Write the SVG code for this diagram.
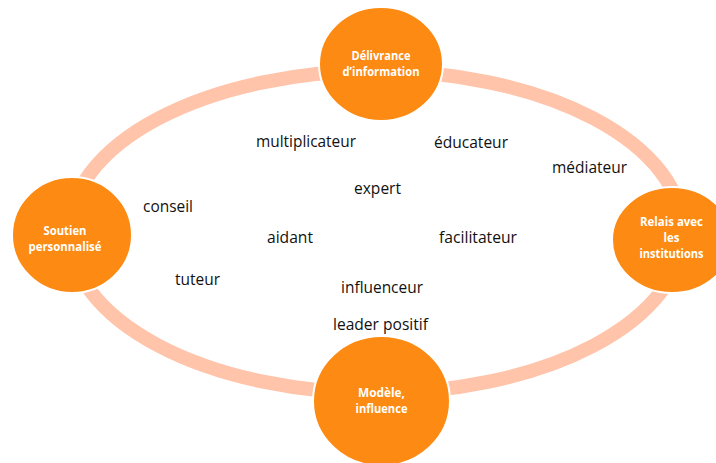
<svg xmlns="http://www.w3.org/2000/svg" width="716" height="463" viewBox="0 0 716 463">
<style>
.ring{fill:none;stroke:#FFC4AA;stroke-width:14}
.node{fill:#FD8A12;stroke:#FFFFFF;stroke-width:2}
.nt{font-family:"Open Sans","Liberation Sans",sans-serif;font-weight:700;font-size:11.5px;fill:#FFFFFF;text-anchor:middle}
.lb{font-family:"Open Sans","Liberation Sans",sans-serif;font-size:16px;fill:#111111}
</style>
<rect width="716" height="463" fill="#FFFFFF"/>
<g id="connectors">
<ellipse class="ring" cx="376" cy="232" rx="307" ry="161"/>
</g>
<g id="node-delivrance">
<ellipse class="node" cx="381" cy="64" rx="62" ry="57"/>
<text class="nt" x="381" y="60" textLength="59" lengthAdjust="spacingAndGlyphs">Délivrance</text>
<text class="nt" x="381" y="76" textLength="77" lengthAdjust="spacingAndGlyphs">d’information</text>
</g>
<g id="node-soutien">
<ellipse class="node" cx="72" cy="235" rx="60" ry="58"/>
<text class="nt" x="65" y="235" textLength="43" lengthAdjust="spacingAndGlyphs">Soutien</text>
<text class="nt" x="65" y="251" textLength="73" lengthAdjust="spacingAndGlyphs">personnalisé</text>
</g>
<g id="node-relais">
<ellipse class="node" cx="672" cy="240" rx="60" ry="53"/>
<text class="nt" x="671.5" y="226" textLength="63" lengthAdjust="spacingAndGlyphs">Relais avec</text>
<text class="nt" x="671.5" y="242">les</text>
<text class="nt" x="671.5" y="258" textLength="64" lengthAdjust="spacingAndGlyphs">institutions</text>
</g>
<g id="node-modele">
<ellipse class="node" cx="381.5" cy="401" rx="68.5" ry="65"/>
<text class="nt" x="381.5" y="397" textLength="47" lengthAdjust="spacingAndGlyphs">Modèle,</text>
<text class="nt" x="381.5" y="413" textLength="52" lengthAdjust="spacingAndGlyphs">influence</text>
</g>
<g id="labels">
<text class="lb" x="256" y="147" textLength="100" lengthAdjust="spacingAndGlyphs">multiplicateur</text>
<text class="lb" x="434" y="148" textLength="74" lengthAdjust="spacingAndGlyphs">éducateur</text>
<text class="lb" x="552" y="173" textLength="75" lengthAdjust="spacingAndGlyphs">médiateur</text>
<text class="lb" x="354" y="194" textLength="47" lengthAdjust="spacingAndGlyphs">expert</text>
<text class="lb" x="143" y="212" textLength="50" lengthAdjust="spacingAndGlyphs">conseil</text>
<text class="lb" x="267" y="243" textLength="46" lengthAdjust="spacingAndGlyphs">aidant</text>
<text class="lb" x="439" y="243" textLength="78" lengthAdjust="spacingAndGlyphs">facilitateur</text>
<text class="lb" x="175" y="285" textLength="45" lengthAdjust="spacingAndGlyphs">tuteur</text>
<text class="lb" x="341" y="293" textLength="82" lengthAdjust="spacingAndGlyphs">influenceur</text>
<text class="lb" x="333" y="330" textLength="95" lengthAdjust="spacingAndGlyphs">leader positif</text>
</g>
</svg>
